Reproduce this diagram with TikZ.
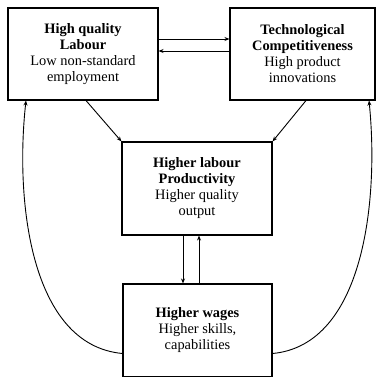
\documentclass[tikz,border=0pt]{standalone}
\usepackage{fontspec}
\setmainfont{Liberation Serif}
\usetikzlibrary{arrows.meta}
\tikzset{box/.style={rectangle,draw,line width=1.1pt,align=center,inner sep=0pt,
  font=\fontsize{14.4}{16}\selectfont}}
\tikzset{arr/.style={line width=0.9pt,-{Stealth[length=5pt,width=4pt]}}}

\begin{document}
\begin{tikzpicture}[x=1pt,y=-1pt]
      \useasboundingbox (0,0) rectangle (376,377);
      \clip (0,0) rectangle (376,377);
      \node[box,minimum width=150pt,minimum height=92pt] (hq) at (83,54) {\textbf{High quality}\\\textbf{Labour}\\Low non-standard\\employment};
      \node[box,minimum width=145pt,minimum height=92pt] (tc) at (302.5,54) {\textbf{Technological}\\\textbf{Competitiveness}\\High product\\innovations};
      \node[box,minimum width=150pt,minimum height=93pt] (hlp) at (197,188.5) {\textbf{Higher labour}\\\textbf{Productivity}\\Higher quality\\output};
      \node[box,minimum width=149pt,minimum height=93pt] (hw) at (197.5,330.5) {\textbf{Higher wages}\\Higher skills,\\capabilities};
      \draw[arr] ([yshift=15pt]hq.east) -- ([yshift=15pt]hq.east -| tc.west);
      \draw[arr] ([yshift=3pt]tc.west) -- ([yshift=3pt]tc.west -| hq.east);
      \draw[arr] ([xshift=3pt]hq.south) -- (hlp.north west);
      \draw[arr] ([xshift=3.5pt]tc.south) -- (hlp.north east);
      \draw[arr] ([xshift=-14pt]hlp.south) -- ([xshift=-14pt]hlp.south |- hw.north);
      \draw[arr] ([xshift=1.5pt]hw.north) -- ([xshift=1.5pt]hw.north |- hlp.south);
      \draw[arr] ([yshift=-23pt]hw.west) .. controls (30,345) and (15,200) .. ([xshift=-57pt]hq.south);
      \draw[arr] ([yshift=-23pt]hw.east) .. controls (364,345) and (379,200) .. ([xshift=66.5pt]tc.south);
    \end{tikzpicture}
\end{document}
